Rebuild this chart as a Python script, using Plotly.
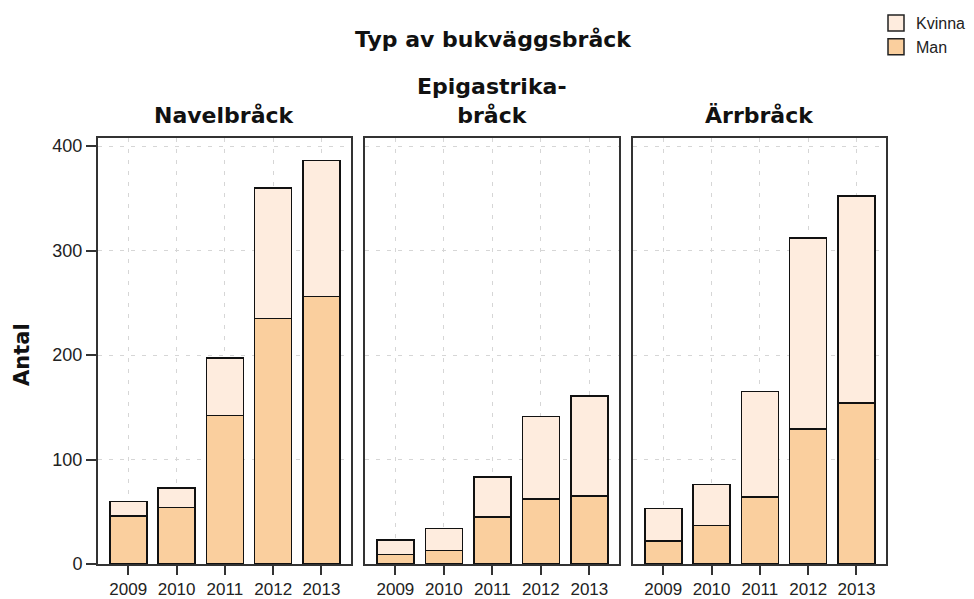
import plotly.graph_objects as go

years = ["2009", "2010", "2011", "2012", "2013"]
panels = ["Navelbråck", "Epigastrika-<br>bråck", "Ärrbråck"]

man = [
    [46, 54, 142, 235, 256],
    [9, 13, 45, 62, 65],
    [22, 37, 64, 129, 154],
]
total = [
    [60, 73, 197, 360, 386],
    [23, 34, 83, 141, 161],
    [53, 76, 165, 312, 352],
]
kvinna = [[t - m for t, m in zip(tp, mp)] for tp, mp in zip(total, man)]

y_ticks = [0, 100, 200, 300, 400]

MAN_COLOR = "#FACF9E"
KVINNA_COLOR = "#FEECDE"
FRAME = "#333333"
GRID = "#d6d6d6"
OUTLINE = {"color": "#111111", "width": 1.6}
TICK_FONT = {"family": "Liberation Sans, Arial, sans-serif", "size": 17, "color": "#222222"}
TITLE_FONT = {"family": "DejaVu Sans, sans-serif", "size": 22, "color": "#111111"}

W, H = 974, 599
x_px = [(98, 351), (365, 619), (633, 886)]
y_px = (138, 564)

fig = go.Figure()
for i in range(3):
    ax = "" if i == 0 else str(i + 1)
    fig.add_trace(
        go.Bar(
            x=years, y=man[i], name="Man", marker_color=MAN_COLOR,
            marker_line=OUTLINE, xaxis="x" + ax, yaxis="y" + ax,
            showlegend=False,
        )
    )
    fig.add_trace(
        go.Bar(
            x=years, y=kvinna[i], name="Kvinna", marker_color=KVINNA_COLOR,
            marker_line=OUTLINE, xaxis="x" + ax, yaxis="y" + ax,
            showlegend=False,
        )
    )

# legend keys only (bigger squares than the default bar swatch)
for name, color in [("Kvinna", KVINNA_COLOR), ("Man", MAN_COLOR)]:
    fig.add_trace(
        go.Scatter(
            x=[None], y=[None], mode="markers", name=name,
            marker={"symbol": "square", "size": 16, "color": color,
                    "line": {"color": "#222222", "width": 1.5}},
        )
    )

axis_common = dict(
    showline=True, linecolor=FRAME, linewidth=2, mirror=True,
    showgrid=True, gridcolor=GRID, griddash="4px,7px", gridwidth=1,
    zeroline=False, automargin=False,
)

layout = {}
for i in range(3):
    ax = "" if i == 0 else str(i + 1)
    x0, x1 = x_px[i]
    layout["xaxis" + ax] = dict(
        axis_common,
        domain=[x0 / W, x1 / W],
        anchor="y" + ax,
        type="category",
        range=[-0.627, 4.611],
        ticks="outside", ticklen=9, tickwidth=2, tickcolor=FRAME,
        tickfont=TICK_FONT,
    )
    layout["yaxis" + ax] = dict(
        axis_common,
        domain=[1 - y_px[1] / H, 1 - y_px[0] / H],
        anchor="x" + ax,
        range=[0, 407.7],
        tickvals=y_ticks,
        ticks="outside" if i == 0 else "",
        ticklen=10, tickwidth=2, tickcolor=FRAME,
        showticklabels=(i == 0),
        tickfont=dict(TICK_FONT, size=18),
    )

annotations = [
    dict(text="<b>Typ av bukväggsbråck</b>", x=493 / W, y=1 - 40 / H,
         xref="paper", yref="paper", showarrow=False, font=TITLE_FONT,
         xanchor="center", yanchor="middle"),
    dict(text="<b>Antal</b>", x=22 / W, y=1 - 355 / H, textangle=-90,
         xref="paper", yref="paper", showarrow=False,
         font=dict(TITLE_FONT, size=21),
         xanchor="center", yanchor="middle"),
]
for i, name in enumerate(panels):
    x0, x1 = x_px[i]
    annotations.append(
        dict(text=f"<b>{name}</b>", x=(x0 + x1) / 2 / W, y=1 - 130 / H,
             xref="paper", yref="paper", showarrow=False, font=TITLE_FONT,
             xanchor="center", yanchor="bottom")
    )

fig.update_layout(
    **layout,
    barmode="stack",
    bargap=0.234,
    width=W,
    height=H,
    margin={"l": 0, "r": 0, "t": 0, "b": 0},
    paper_bgcolor="white",
    plot_bgcolor="white",
    annotations=annotations,
    legend={
        "x": 876 / W, "y": 1 - 6 / H, "xanchor": "left", "yanchor": "top",
        "font": {"family": "Liberation Sans, Arial, sans-serif", "size": 16, "color": "#222222"},
        "tracegroupgap": 0, "itemwidth": 30, "itemsizing": "trace",
        "traceorder": "normal", "bgcolor": "rgba(0,0,0,0)",
    },
)

fig.write_html(
    "out.html",
    config={"displayModeBar": False},
    post_script="document.body.style.margin = '0';",
)
